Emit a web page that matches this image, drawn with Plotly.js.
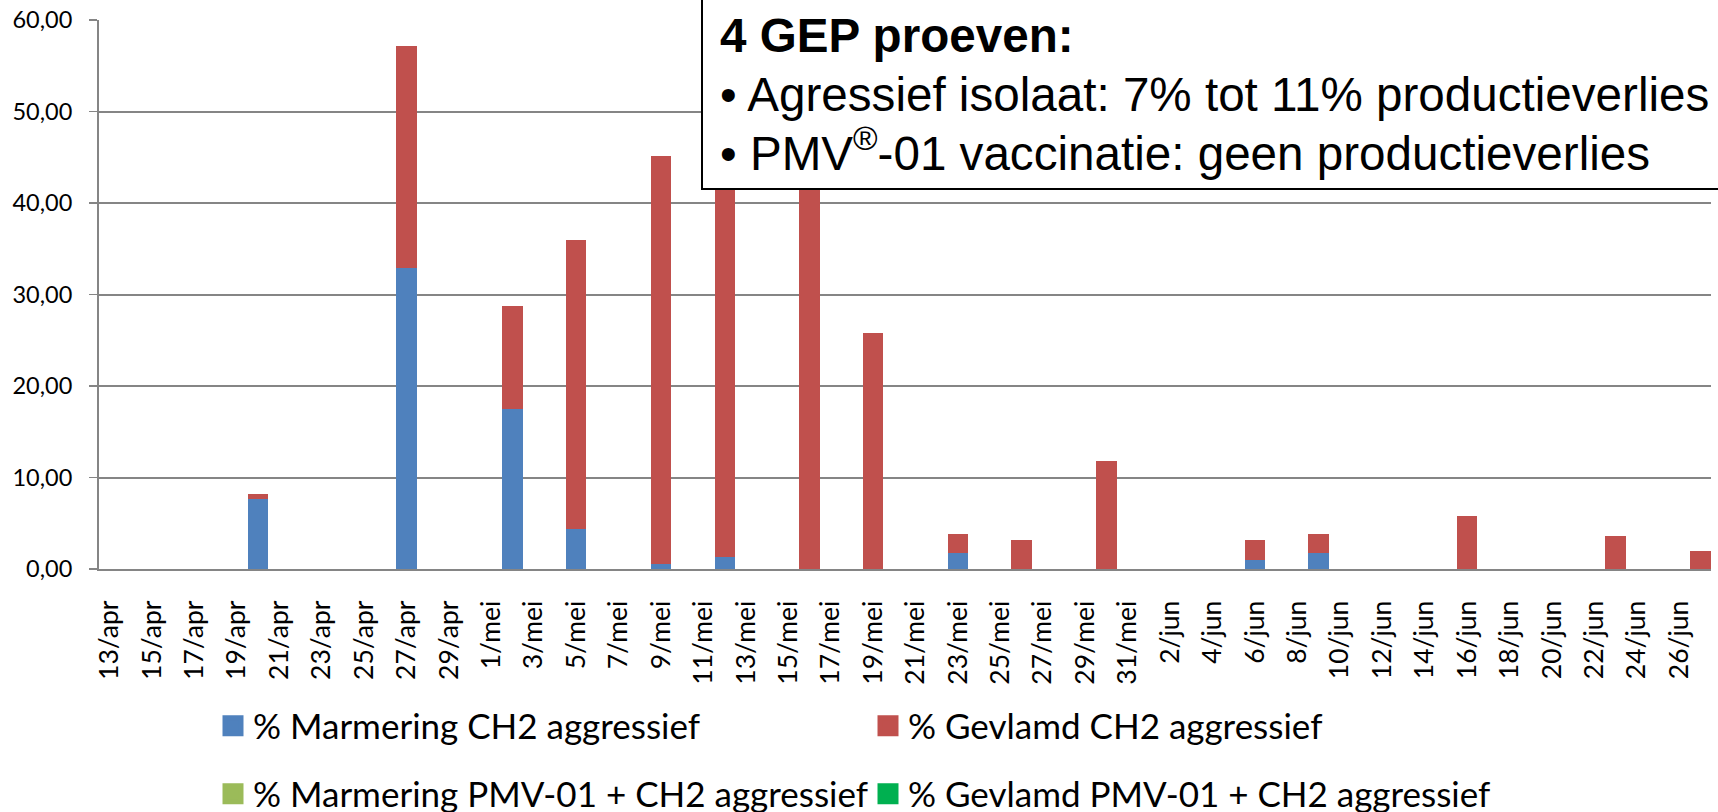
<!DOCTYPE html>
<html>
<head>
<meta charset="utf-8">
<script src="https://cdn.plot.ly/plotly-3.0.1.min.js"></script>
<style>
  html, body { margin: 0; padding: 0; background: #ffffff; }
  #chart { width: 1718px; height: 812px; }
</style>
</head>
<body>
<div id="chart"></div>
<script>
// ---- data ----
var barDates = ['2013-04-20', '2013-04-27', '2013-05-02', '2013-05-05', '2013-05-09', '2013-05-12',
                '2013-05-16', '2013-05-19', '2013-05-23', '2013-05-26', '2013-05-30', '2013-06-06',
                '2013-06-09', '2013-06-16', '2013-06-23', '2013-06-27'];
var marmeringCH2 = [7.7, 32.9, 17.45, 4.4, 0.6, 1.3, 0, 0, 1.75, 0, 0, 1.0, 1.75, 0, 0, 0];
var gevlamdCH2   = [0.45, 24.3, 11.25, 31.6, 44.5, 46.7, 44.0, 25.8, 2.1, 3.15, 11.75, 2.15, 2.1, 5.8, 3.6, 1.95];
var marmeringPMV = [0, 0, 0, 0, 0, 0, 0, 0, 0, 0, 0, 0, 0, 0, 0, 0];
var gevlamdPMV   = [0, 0, 0, 0, 0, 0, 0, 0, 0, 0, 0, 0, 0, 0, 0, 0];

var tickLabels = ['13/apr', '15/apr', '17/apr', '19/apr', '21/apr', '23/apr', '25/apr', '27/apr', '29/apr',
                  '1/mei', '3/mei', '5/mei', '7/mei', '9/mei', '11/mei', '13/mei', '15/mei', '17/mei',
                  '19/mei', '21/mei', '23/mei', '25/mei', '27/mei', '29/mei', '31/mei',
                  '2/jun', '4/jun', '6/jun', '8/jun', '10/jun', '12/jun', '14/jun', '16/jun', '18/jun',
                  '20/jun', '22/jun', '24/jun', '26/jun'];
var seriesNames = ['% Marmering CH2 aggressief', '% Gevlamd CH2 aggressief',
                   '% Marmering PMV-01 + CH2 aggressief', '% Gevlamd PMV-01 + CH2 aggressief'];
var boxLines = ['<b>4 GEP proeven:</b>',
                '\u2022 Agressief isolaat: 7% tot 11% productieverlies',
                '\u2022 PMV<sup>\u00ae</sup>-01 vaccinatie: geen productieverlies'];

// ---- helpers ----
var monthNum = { apr: '04', mei: '05', jun: '06' };
function labelToDate(lbl) {
  var p = lbl.split('/');
  var d = p[0].length < 2 ? '0' + p[0] : p[0];
  return '2013-' + monthNum[p[1]] + '-' + d;
}
var tickDates = tickLabels.map(labelToDate);

var DAY = 86400000;
var FONT = 'Lato, "Open Sans", sans-serif';
var GRID = '#858585';

var colors = ['#4F81BD', '#C0504D', '#9BBB59', '#00B050'];
var values = [marmeringCH2, gevlamdCH2, marmeringPMV, gevlamdPMV];

// the bars themselves
var traces = values.map(function (v, i) {
  return {
    type: 'bar',
    x: barDates,
    y: v,
    name: seriesNames[i],
    width: 0.96 * DAY,
    marker: { color: colors[i], line: { width: 0 } },
    showlegend: false,
    legendgroup: 's' + i,
    hoverinfo: 'x+y+name'
  };
});
// legend entries (square keys like the reference), one per series
values.forEach(function (v, i) {
  traces.push({
    type: 'scatter',
    mode: 'markers',
    x: [null],
    y: [null],
    name: seriesNames[i],
    legendgroup: 's' + i,
    legend: i < 2 ? 'legend' : 'legend2',
    marker: { symbol: 'square', size: 16, color: colors[i], line: { color: colors[i], width: 5 } },
    hoverinfo: 'skip'
  });
});

// px helpers for paper coordinates
var L = 99, R = 7, T = 20, B = 243, W = 1718, H = 812;
var pw = W - L - R, ph = H - T - B;
function px(xp) { return (xp - L) / pw; }
function py(yp) { return (H - B - yp) / ph; }

var legendCommon = {
  orientation: 'h',
  xanchor: 'left',
  yanchor: 'middle',
  entrywidth: 610, entrywidthmode: 'pixels',
  itemsizing: 'trace',
  bgcolor: 'rgba(0,0,0,0)',
  font: { family: FONT, size: 35, color: '#000000' },
  traceorder: 'normal'
};

var layout = {
  width: W, height: H,
  margin: { l: L, r: R, t: T, b: B, pad: 0, autoexpand: false },
  paper_bgcolor: '#ffffff',
  plot_bgcolor: '#ffffff',
  barmode: 'stack',
  separators: ',.',
  font: { family: FONT, color: '#000000' },
  xaxis: {
    type: 'date',
    range: ['2013-04-12 12:00', '2013-06-27 12:00'],
    tickmode: 'array',
    tickvals: tickDates,
    ticktext: tickLabels,
    tickangle: -90,
    ticks: 'outside',
    ticklen: 9,
    tickcolor: 'rgba(0,0,0,0)',
    ticklabelstandoff: 10,
    tickfont: { family: FONT, size: 26.5, color: '#000000' },
    showgrid: false,
    showline: true,
    linecolor: GRID,
    linewidth: 2,
    zeroline: false,
    fixedrange: true
  },
  xaxis2: {
    type: 'date',
    overlaying: 'x',
    anchor: 'y',
    side: 'bottom',
    range: ['2013-04-12 12:00', '2013-06-27 12:00'],
    tickmode: 'linear',
    tick0: '2013-04-12 12:00',
    dtick: 2 * DAY,
    ticks: 'outside',
    ticklen: 8,
    tickwidth: 1.6,
    tickcolor: GRID,
    showticklabels: false,
    showgrid: false,
    showline: false,
    zeroline: false,
    fixedrange: true
  },
  yaxis: {
    range: [0, 60],
    tickmode: 'linear',
    tick0: 0,
    dtick: 10,
    tickformat: '.2f',
    ticks: 'outside',
    ticklen: 8,
    tickwidth: 1.6,
    tickcolor: GRID,
    ticklabelstandoff: 12,
    tickfont: { family: FONT, size: 23.5, color: '#000000' },
    showgrid: true,
    gridcolor: GRID,
    gridwidth: 2,
    showline: true,
    linecolor: GRID,
    linewidth: 2,
    zeroline: false,
    fixedrange: true
  },
  legend: Object.assign({}, legendCommon, { x: px(213), y: py(726) }),
  legend2: Object.assign({}, legendCommon, { x: px(213), y: py(794) }),
  shapes: [{
    type: 'rect', xref: 'paper', yref: 'paper',
    x0: px(702), x1: px(1740), y0: py(189), y1: py(-30),
    fillcolor: '#ffffff',
    line: { color: '#000000', width: 2 },
    layer: 'above'
  }],
  annotations: boxLines.map(function (t, i) {
    var centers = [36, 94, 150];
    return {
      xref: 'paper', yref: 'paper',
      x: px(718), xanchor: 'left',
      y: py(centers[i]), yanchor: 'middle',
      text: t, showarrow: false, align: 'left',
      font: { family: '"Liberation Sans", Arial, sans-serif', size: 47.6, color: '#000000' }
    };
  }),
  showlegend: true
};

Plotly.newPlot('chart', traces, layout, { displayModeBar: false, staticPlot: true });
</script>
</body>
</html>
